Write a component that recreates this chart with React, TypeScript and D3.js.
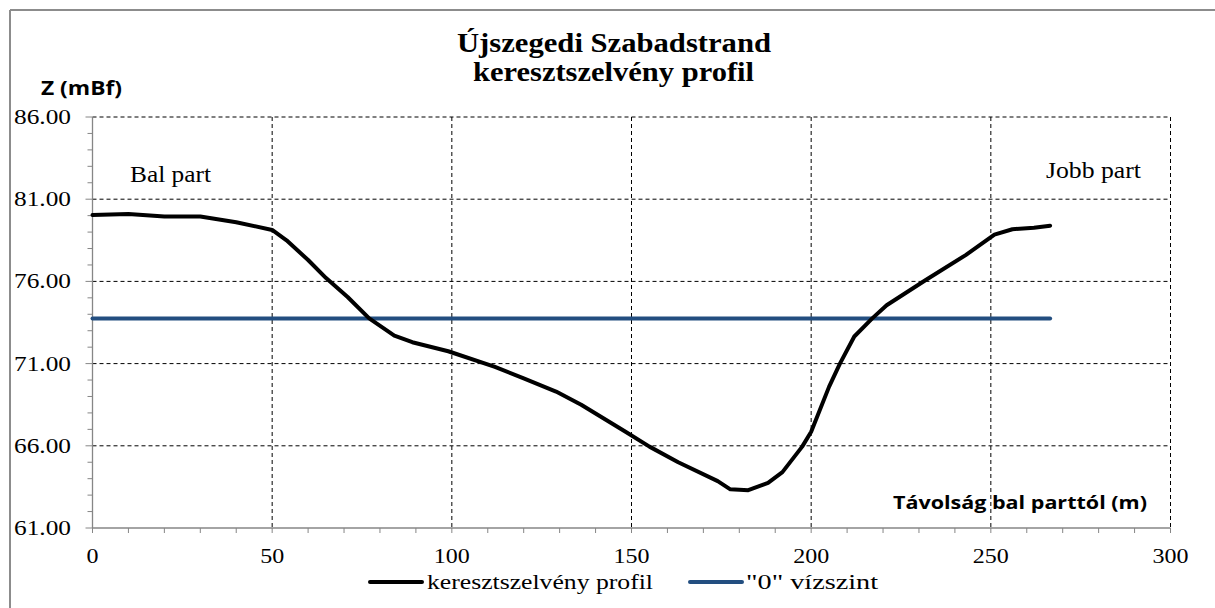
import React from "react";
import * as d3 from "d3";

// distance from left bank (m) and bed elevation (mBf)
const distances = [
  0, 10, 20, 30, 40, 50, 54, 60, 65, 71, 77, 84, 89, 99, 112, 120, 129, 136,
  148, 155, 163, 174, 177.5, 182.5, 188, 192, 197.5, 200, 205, 208, 212, 217,
  221, 232, 243, 251, 256, 262, 266.5,
];
const elevations = [
  80.04, 80.1, 79.95, 79.95, 79.6, 79.13, 78.5, 77.3, 76.2, 75.05, 73.75, 72.7,
  72.3, 71.75, 70.8, 70.1, 69.3, 68.5, 66.9, 65.95, 65.0, 63.85, 63.35, 63.3,
  63.75, 64.4, 65.95, 66.85, 69.6, 71.0, 72.65, 73.75, 74.55, 76.1, 77.6, 78.85,
  79.17, 79.27, 79.39,
];
const zeroDistances = [0, 266.5];
const zeroLevel = [73.75, 73.75];

const xTicks = [0, 50, 100, 150, 200, 250, 300];
const yTicks = [61, 66, 71, 76, 81, 86];
const legendLabels = ["keresztszelvény profil", "\"0\" vízszint"];
const titleLines = ["Újszegedi Szabadstrand", "keresztszelvény profil"];

const W = 1215;
const H = 608;
const serif = "'Liberation Serif', 'Times New Roman', serif";
const sans = "'Open Sans', 'Liberation Sans', sans-serif";
const blue = "#234e80";
const axisGray = "#868686";

export default function App() {
  const x = d3.scaleLinear().domain([0, 300]).range([92.5, 1170.5]);
  const y = d3.scaleLinear().domain([61, 86]).range([528, 117]);

  const profile = distances.map((d, i) => [d, elevations[i]] as [number, number]);
  const zero = zeroDistances.map((d, i) => [d, zeroLevel[i]] as [number, number]);
  const line = d3
    .line<[number, number]>()
    .x((d) => x(d[0]))
    .y((d) => y(d[1]));

  const fmt = d3.format(".2f");
  const minorY = d3.range(61, 86.01, 1);
  const minorX = d3.range(0, 300.01, 10);

  return (
    <svg
      width={W}
      height={H}
      style={{ position: "absolute", left: 0, top: 0, background: "#fff" }}
    >
      <rect x={0} y={0} width={W} height={H} fill="#fff" />
      {/* outer frame */}
      <line x1={10} y1={10} x2={W} y2={10} stroke="#8c8c8c" strokeWidth={2} />
      <line x1={10} y1={10} x2={10} y2={H} stroke="#8c8c8c" strokeWidth={2} />

      {/* title */}
      <text x={457} y={52} fontFamily={serif} fontWeight="bold" fontSize={27}
        textLength={314} lengthAdjust="spacingAndGlyphs">{titleLines[0]}</text>
      <text x={473} y={81} fontFamily={serif} fontWeight="bold" fontSize={27}
        textLength={281} lengthAdjust="spacingAndGlyphs">{titleLines[1]}</text>

      {/* y axis title */}
      <text x={41} y={95} fontFamily={sans} fontWeight="bold" fontSize={20}
        textLength={81} lengthAdjust="spacingAndGlyphs">Z (mBf)</text>

      {/* grid */}
      {yTicks.slice(1).map((t) => (
        <line key={"gy" + t} x1={x(0)} x2={x(300)} y1={y(t)} y2={y(t)}
          stroke="#000" strokeWidth={1} strokeDasharray="4,3" />
      ))}
      {xTicks.slice(1).map((t) => (
        <line key={"gx" + t} x1={x(t)} x2={x(t)} y1={y(86)} y2={y(61)}
          stroke="#000" strokeWidth={1} strokeDasharray="4,3" />
      ))}

      {/* axes */}
      <line x1={x(0)} x2={x(0)} y1={y(86)} y2={y(61)} stroke={axisGray} strokeWidth={1.3} />
      <line x1={x(0)} x2={x(300)} y1={y(61)} y2={y(61)} stroke={axisGray} strokeWidth={1.3} />
      {minorY.map((t) => (
        <line key={"my" + t} x1={x(0) - (t % 5 === 1 ? 7 : 5)} x2={x(0)} y1={y(t)} y2={y(t)}
          stroke={axisGray} strokeWidth={1} />
      ))}
      {minorX.map((t) => (
        <line key={"mx" + t} x1={x(t)} x2={x(t)} y1={y(61)} y2={y(61) + 5}
          stroke={axisGray} strokeWidth={1} />
      ))}

      {/* tick labels */}
      {yTicks.map((t) => (
        <text key={"ly" + t} x={14} y={y(t) + 7} fontFamily={serif} fontSize={21}
          textLength={57} lengthAdjust="spacingAndGlyphs">{fmt(t)}</text>
      ))}
      {xTicks.map((t) => (
        <text key={"lx" + t} x={x(t)} y={563} fontFamily={serif} fontSize={20}
          textAnchor="middle" textLength={String(t).length * 12}
          lengthAdjust="spacingAndGlyphs">{String(t)}</text>
      ))}

      {/* bank labels */}
      <text x={130} y={182} fontFamily={serif} fontSize={23}
        textLength={81} lengthAdjust="spacingAndGlyphs">Bal part</text>
      <text x={1046} y={178} fontFamily={serif} fontSize={23}
        textLength={95} lengthAdjust="spacingAndGlyphs">Jobb part</text>

      {/* x axis title */}
      <text x={893} y={509} fontFamily={sans} fontWeight="bold" fontSize={17}
        textLength={254} lengthAdjust="spacingAndGlyphs">Távolság bal parttól (m)</text>

      {/* series */}
      <path d={line(zero) ?? ""} fill="none" stroke={blue} strokeWidth={4} strokeLinecap="round" />
      <path d={line(profile) ?? ""} fill="none" stroke="#000" strokeWidth={4}
        strokeLinejoin="round" strokeLinecap="round" />

      {/* legend */}
      <line x1={370} x2={422} y1={582} y2={582} stroke="#000" strokeWidth={4} strokeLinecap="round" />
      <text x={427} y={589} fontFamily={serif} fontSize={21}
        textLength={226} lengthAdjust="spacingAndGlyphs">{legendLabels[0]}</text>
      <line x1={690} x2={742} y1={582} y2={582} stroke={blue} strokeWidth={4} strokeLinecap="round" />
      <text x={746} y={589} fontFamily={serif} fontSize={21}
        textLength={132} lengthAdjust="spacingAndGlyphs">{legendLabels[1]}</text>
    </svg>
  );
}
